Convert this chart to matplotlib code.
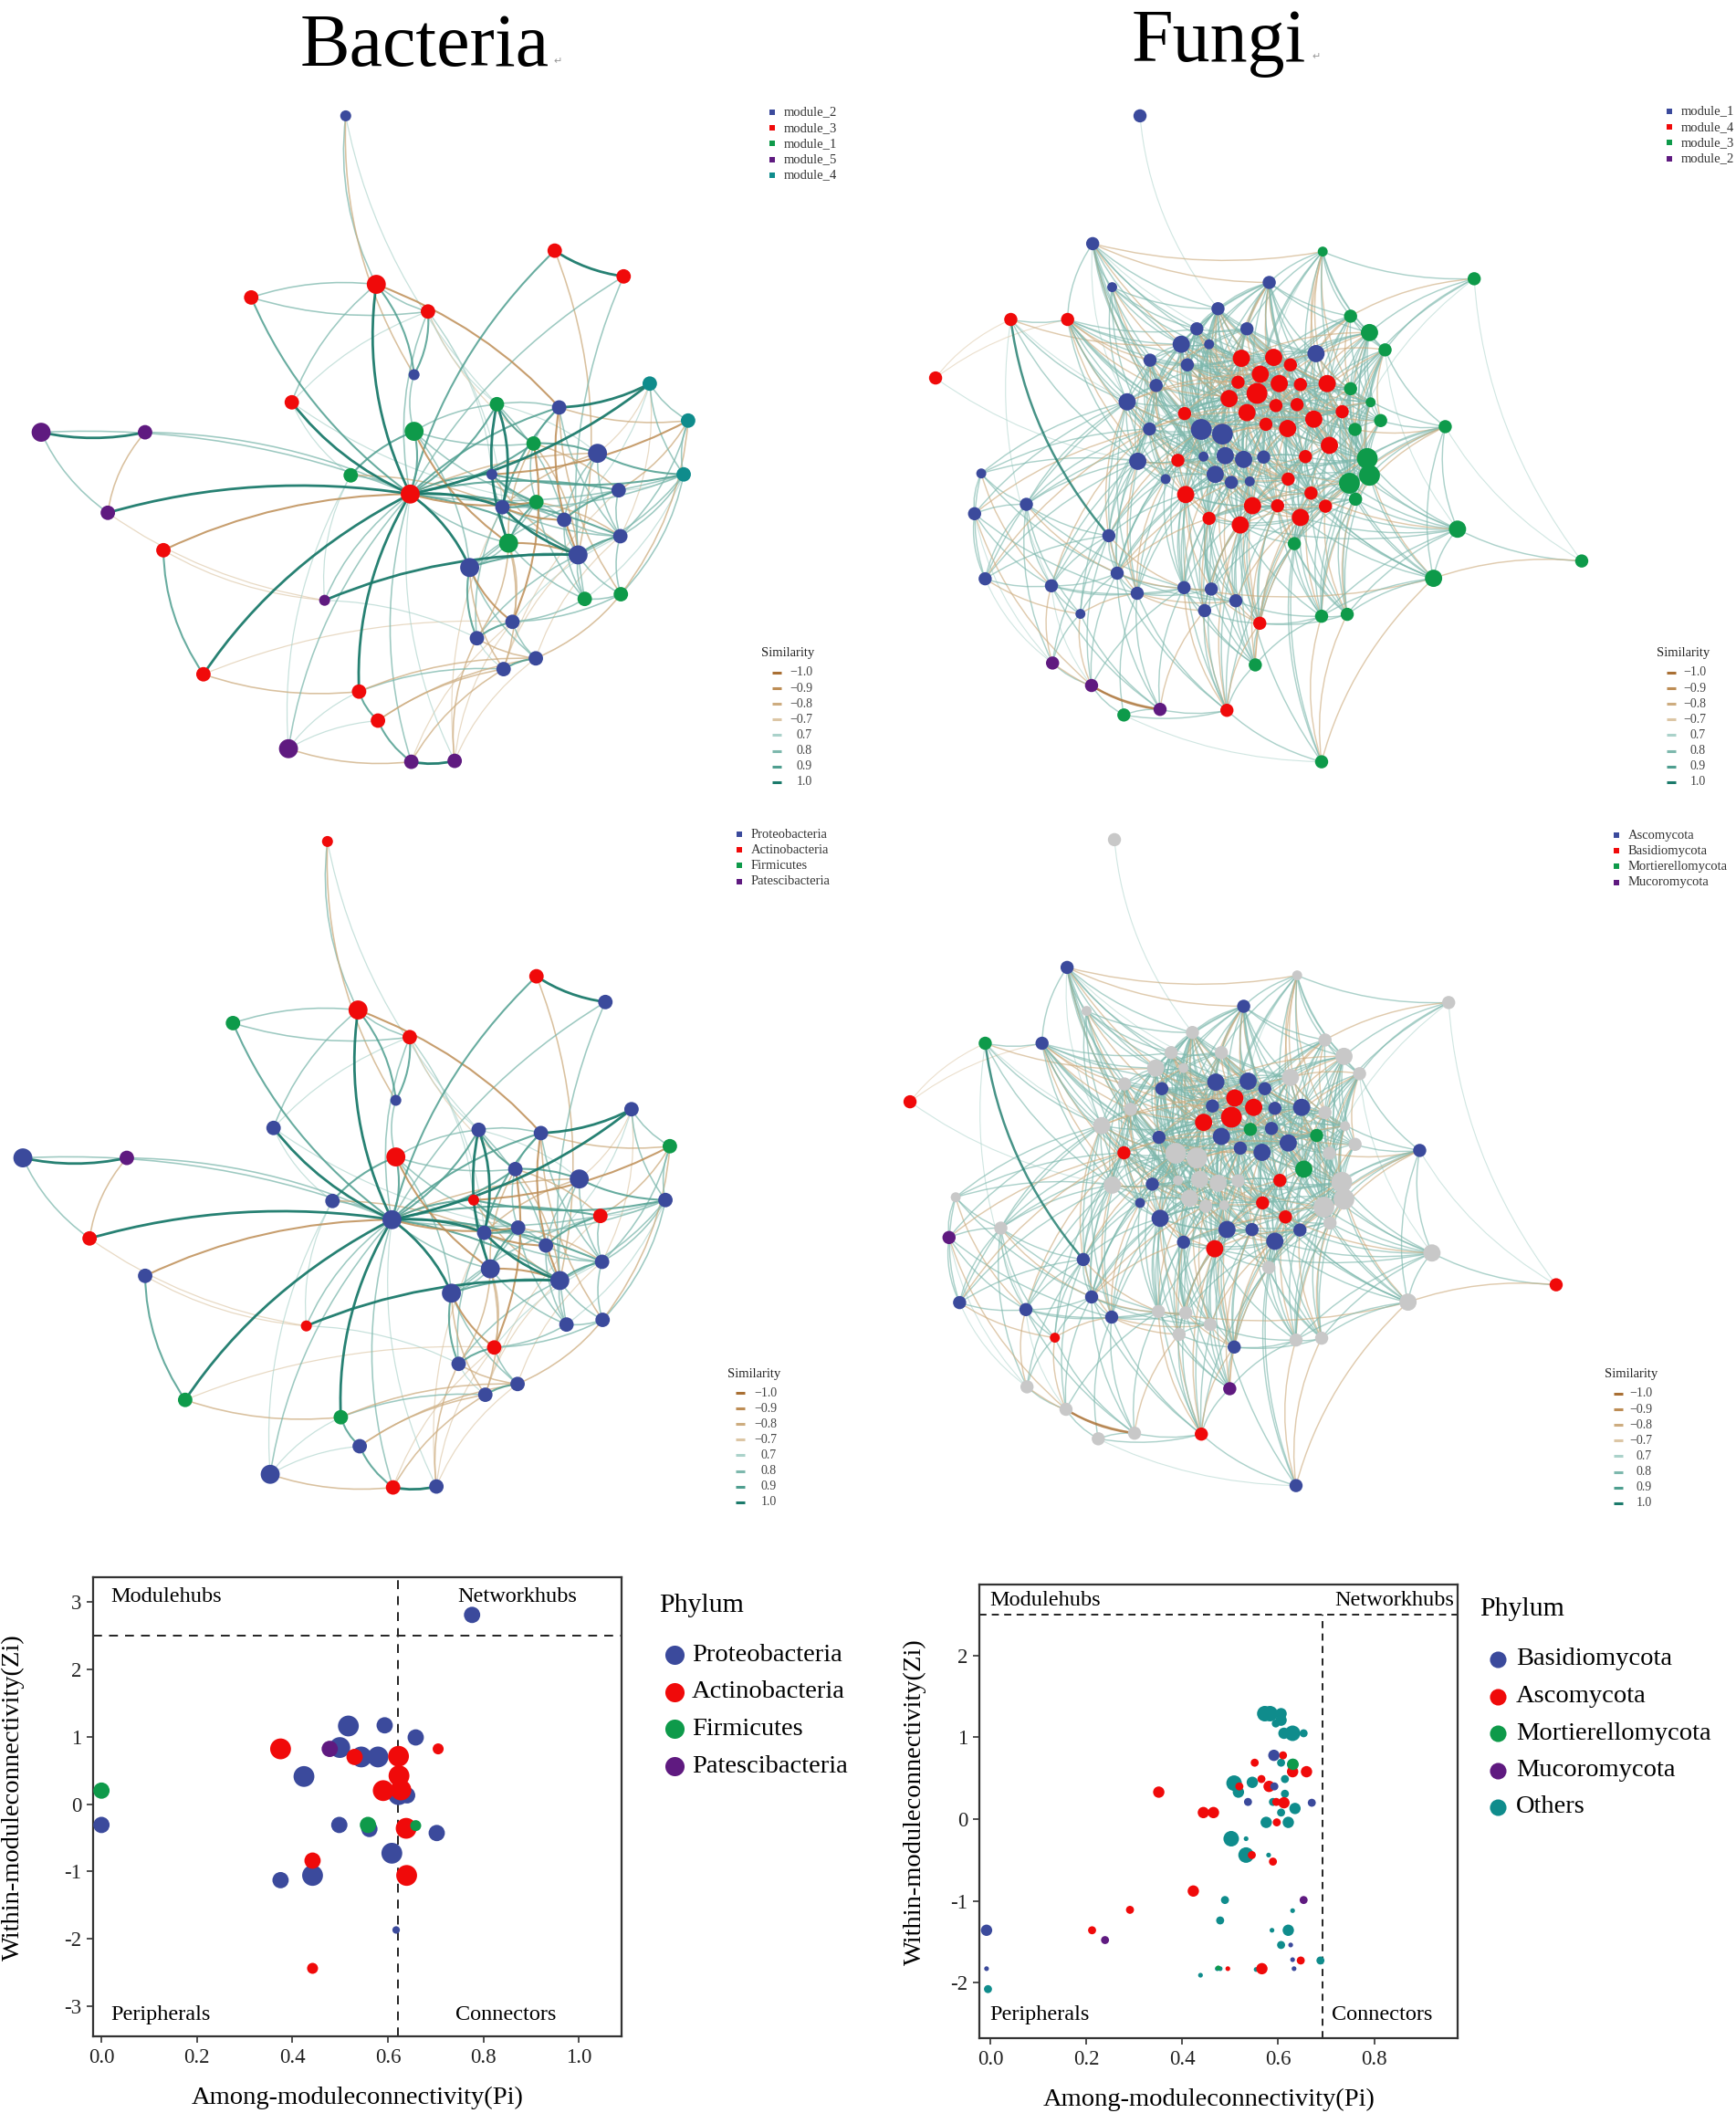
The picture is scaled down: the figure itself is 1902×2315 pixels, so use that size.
import re
import numpy as np
import matplotlib
matplotlib.use('Agg')
import matplotlib.pyplot as plt
from matplotlib.path import Path
from matplotlib.patches import PathPatch

plt.rcParams['font.family'] = ['Liberation Serif', 'DejaVu Sans']
plt.rcParams['axes.unicode_minus'] = False

W, H = 1902, 2315

# ---------------- Bacteria network (layout coordinates) ----------------
bac_x = [622, 745, 1006, 1075, 885, 1113, 904, 1015, 1116, 1040,
         845, 922, 858, 964, 906, 998, 1122, 677, 452, 770,
         525, 738, 294, 366, 646, 680, 894, 745, 631, 960,
         965, 915, 1052, 1117, 74, 261, 194, 584, 519, 740,
         818, 1169, 1238, 1230]
bac_y = [72, 625, 695, 793, 838, 872, 908, 935, 970, 1010,
         1037, 1153, 1188, 1231, 1254, 360, 415, 432, 460, 490,
         684, 880, 1000, 1265, 1302, 1364, 688, 746, 840, 772,
         897, 985, 1104, 1094, 748, 748, 920, 1107, 1424, 1452,
         1450, 644, 723, 838]
bac_module = list("2" * 15 + "3" * 11 + "1" * 8 + "5" * 7 + "4" * 3)
bac_phylum = list("APPPAAPPPP" "PAPPPAPAFA" "PPPFFPPAPP" "PPPPPSAAPA" "PPFP")
bac_size = list("ssmlsmmmml" "lmmmmmmlmm" "mlmmmmmlmm" "mlmmlmmslm" "mmmm")

bac_edges = """
0: 17 -1 26'
17: 18 19 20 21* 1^ -2^
18: 19 21^
19: 1^ 21 26' 4' -29' 6'
20: 19' 21* 30' 28'
15: 16* 21^ -9
16: 21 32
34: 35* 36 21
35: -36 21
36: 21* -37'
22: -21^ 23^ -37'
23: 21* -24 -11'
37: 21 9* 12' 28'
38: 21 24' -39 25' 28'
39: 40* 25^ 21 -14 -11'
40: -11' 21' -12 -13' -6'
24: 21* 14 -13 25^
25: -13 -14
21: 27^ 28 4^ 6* 2^ 5^ 8^ 9^ 10* -30^ 29^ 43 7 -3 26^ 31 41*
27: 26 1 -31^ 29 30 28^ 10
28: -6
26: 3' 6* 29^ 2 31* 7
2: 41* 29 8 -9^ 6^ -33 -42
3: 43^ 8 9 7 -6 29^
4: -42^ 43^ 6 30^ -9 7
5: 8 10 43' -42 7^ -29 -14'
6: 9* 31 8 -7^ 12 30^
7: 9 30 32 41' 8
8: 9^ 33 43 11' -41'
9: 10^ -31^ 32 33 12 -29
10: 31 12^ -11^ 13 -14 30
11: -31 12^ 13 -29^ 32 33
12: -31 14' -13
13: 14^ -8' -33
14: -31 -9'
30: 31^ 29 32 -8
31: 32 -29
32: 33 43'
33: 43 -42
41: 42 43 -3'
42: 43 8
43: 6 9
"""

# ---------------- Fungi network (layout coordinates, nodes numbered 1..100) ----------------
fun_x = [490, 405, 818, 1090, 440, 722, 258, 360, 123, 630,
         868, 902, 930, 592, 682, 564, 614, 508, 575, 806,
         672, 730, 760, 519, 666, 706, 740, 778, 826, 868,
         467, 650, 700, 734, 772, 904, 570, 682, 853, 922,
         802, 716, 755, 507, 600, 638, 876, 1038, 830, 787,
         486, 558, 604, 643, 676, 712, 898, 902, 866, 625,
         654, 687, 756, 536, 205, 572, 797, 877, 286, 193,
         692, 737, 823, 614, 670, 778, 1060, 434, 767, 1283,
         212, 331, 449, 485, 569, 618, 662, 606, 1017, 383,
         705, 816, 862, 697, 333, 403, 526, 461, 646, 816]
fun_y = [72, 345, 362, 420, 438, 428, 507, 507, 632, 484,
         500, 535, 572, 527, 527, 560, 560, 594, 604, 580,
         590, 588, 604, 648, 641, 624, 644, 646, 644, 655,
         683, 676, 665, 691, 689, 684, 708, 706, 704, 723,
         720, 731, 740, 741, 742, 752, 742, 736, 776, 800,
         810, 808, 800, 798, 806, 801, 804, 840, 857, 838,
         855, 853, 848, 848, 836, 881, 878, 891, 902, 922,
         905, 905, 906, 932, 946, 930, 955, 969, 986, 1023,
         1061, 1076, 1049, 1092, 1080, 1083, 1108, 1129, 1060, 1136,
         1156, 1141, 1137, 1245, 1241, 1289, 1340, 1352, 1342, 1452]
fun_module = list("bbggbbrrrb" "gggbbbbbbb" "rrrbrrrrrg" "brrrrgrrrg" "rrrbbbggrr"
                  "brbbbbgggb" "bbrbbrrgbb" "rrrrrrgbgg" "bbbbbbbbgb" "rgggpppgrg")
fun_phylum = list("obooobgbro" "oooooooobo" "bbbobrrbbo" "orrgbobbgo" "bbbrooobgr"
                  "oboooooooo" "oorbobroop" "bbbbrbobor" "bbbbooooor" "boopoooorb")
fun_size = list("mmsmsmmmmm" "mlmmmlsmml" "llmmmllmlm" "llxmmsmlmm" "lmlmxxmmlm"
                "lmsllmxxxl" "msmsslmmmm" "lmmmlllmmm" "mmmmmmmmls" "mmmmmmmmmm")

fun_edges = """
1: 10'
2: 8 5 10 14 -6 18 16 24 -3 31' 45 22' 21 -33 46 -53 60
3: 4 11 12 -20 6 22' 15 -29 13 26 -30 33 41 -49 57
4: 12 13 -11 30 47'
5: 10 14 16 -45 31 24' 21 -32 44 53
6: 10 14 15 16 17 19 20 21 22 -23 11 12 -25 3' 45 27 29 -32 33 41 -43 49 57 59
7: -9' 8 31 -16 45' 51 78* 82'
8: 14 16 -18 19 -24 31 37 45 46 -52 21 -32 44 51 -64 53
9: 51' -8'
10: 14 15 17 19 21 -22 25 45 46 -54 55 -33 60 88 20 23 27 29 -32 35 38 -41 44 51
11: 12 13 -20 22 23 29 -30 36 27 -28 33 41 49
12: 13 -21 23 29 30 36 40 -47 57 58 -35 26 -27 41 49 59
13: 29 30 36 -40 47 57 58 48 -59 77' 41 -43 49 68
14: 15 16 17 19 21 -26 24 45 46 53 22 -25 28 32 -33 37 38 -42 55
15: 16 17 20 22 23 -26 27 29 45 -46 21 24 -28 30 32 -36 38 41
16: 17 18 19 21 24 31 45 46 -53 54 22 25 -27 32 33 37 -38 44 51 60
17: 18 19 21 25 -26 45 46 22 23 -24 32 -34 38 53 54
18: 19 24 31 45 -46 51 44 21 -25 32 37 -52 53 60 64
19: 21 22 25 26 -27 45 46 53 32 23 28 -33 37 38 -42 54 55
20: 22 23 28 29 30 -36 41 21 25 -26 27 33 35 -39 43 49 57 11 12 -13
21: 22 25 26 -27 28 32 33 35 -38 42 45 54 23 29 -34 37 41 43 46 -50 55 -63
22: 23 26 27 -28 29 32 33 34 -41 43 35 -37 38 39 42 45 -49 50
23: 27 28 29 -30 33 35 39 41 25 26 -32 34 36 42 -43 47 49
24: 31 45 46 -51 44 37 53 64 32 -33 -37 45 52 60 -66
25: 26 32 33 -37 38 42 45 46 -54 27 28 34 -39 43 44 52 55 -56 60
26: 27 32 33 34 -35 38 42 43 55 28 29 -31 37 39 41 45 -49 56 -63
27: 28 33 34 35 39 -41 43 49 29 32 37 -38 42 -45 50 56 67
28: 29 33 35 -39 41 49 36 30 32 -34 40 42 43 -50 57 63
29: 30 35 36 39 41 -47 49 40 33 -34 42 43 50 57 -58 59
30: 36 39 40 47 -49 57 33 35 -41 48 58 59 68
31: 44 45 -46 51 52 65 69 -78 21 -25 32 53 -60 64 83 84
32: 33 37 38 -42 45 46 54 55 34 -39 43 44 -49 52 53 56 63 66 71
33: 34 38 42 43 -35 46 55 56 63 37 39 -41 45 50 54 -62 67 71
34: 35 38 42 43 49 -50 56 63 37 39 41 -44 45 -54 57 62 67 72
35: 39 41 43 49 50 -57 63 37 38 -40 42 47 56 -59 67 73
36: 39 40 47 57 -58 41 38 -43 49 59 68
37: 44 45 46 52 -53 54 66 64 38 42 -43 51 55 60 61 -71 74 75
38: 42 43 45 46 54 55 -56 62 71 39 41 -44 52 53 -60 63 72 75
39: 40 41 47 49 57 -58 67 42 43 -50 59 63 68 73
40: 47 48 57 58 -59 68
41: 43 47 49 50 57 -58 67 73 42 -45 46 56 59 63 68 76
42: 43 55 56 62 63 -71 72 44 46 50 -52 54 61 67 75
43: 49 50 56 63 67 -72 76 45 -46 55 57 -62 71 73
44: 45 51 52 53 64 -66 83 46 54 -60 61 66 69 78 -82 84 90
45: 46 51 52 53 54 60 64 -66 74 61 55 -56 62 -63 71 85 69 -78 83 84
46: 53 54 55 60 61 -62 71 74 52 56 -63 64 66 72 -75 86
47: 57 58 59 68 -48 79
48: 57 58 59 77 89 -68 67 -73 80'
49: 50 57 58 59 -67 68 73 63 -71 76 77 79
50: 56 59 63 67 -72 73 76 55 57 -62 68 71 75 79
51: 52 64 69 78 83 -84 65 53 -54 60 66 81 82
52: 53 60 64 66 -74 83 85 54 55 -61 71 78
53: 54 60 61 -66 64 55 -62 63 74 85
54: 55 60 61 62 -71 75 56 -63 66 72 74 86 -87
55: 56 61 62 63 -72 71 57 -60 66 67 74 75
56: 62 63 67 71 72 -76 57 -59 66 73 75 -91
57: 58 59 68 77 -89 73 63 67 -76 79 93
58: 59 68 77 89 -79 76 63 67 73 -92 93
59: 67 68 73 76 -79 89 92 63 -71 77 93
60: 61 64 66 74 -85 86 62 -63 71 75 83
61: 62 71 74 75 -87 86 66 72 -76 85 88
62: 63 71 72 75 -91 66 67 -74 76
63: 67 72 73 76 -79 66 -71 75 89
64: 66 78 83 -84 85
65: 69 70 81 -82 44 -51 83
66: 74 78 83 85 -86 88 99 71 72 -75 84 87
67: 73 76 79 -92 93 68 71 -74 75 89
68: 73 76 77 79 89 -93
69: 70 81 82 -83 78 90 44 -45 85 95
70: 81 82 -96 95' 31 -44 84
71: 72 74 75 86 87 -88 91 73 -76 79 85 99
72: 73 75 76 -79 91 93 74 86 92 99
73: 76 79 89 92 -93 74 -75 77 91
74: 75 85 86 88 -99 87 76 -83 91 94
75: 76 79 87 88 91 -99 94 77 -86 92 100
76: 79 89 92 93 -94 77 86 -87 91 100
77: 80 89 93 57 58 -67
78: 81 82 83 -84 90 84 -85 95 96
79: 91 92 93 -94 99
80: -89 4'
81: 82 -90 95' 31 -44 51
82: 83 84 -95 90 96' 45 -51 85 97
83: 84 85 -86 97 60 -61 87 96
84: 85 86 -88 97 99 60 66 -87 98
85: 86 88 -99 94 87 -89 96 97
86: 87 88 -91 99
87: 88 -91 92 94
88: 91 99 -97 94
89: 92 93 -100 57 58 -67 76 80
90: 95 -96 97 83 -84
91: 92 94 -99 63 -67 93
92: 93 94 -100 57 -58 59 68 77
93: 57 58 -59 68 77
94: 71 -72 74 86 99
95: 96 -97
96: -97* 98
97: 98 99
98: 99 100'
99: 100 66 -71 74 83 85 -86
100: 76 89 -93 79
"""

# ---------------- Zi-Pi data ----------------
bzp_pi = [0.776, 0.517, 0.593, 0.658, 0.499, 0.544, 0.579, 0.424, 0.622, 0.640,
          0.0, 0.498, 0.561, 0.702, 0.608, 0.375, 0.442, 0.617,
          0.375, 0.530, 0.622, 0.705, 0.623, 0.590, 0.627, 0.638, 0.442, 0.639, 0.442,
          0.0, 0.558, 0.658, 0.478]
bzp_zi = [2.81, 1.16, 1.17, 0.99, 0.84, 0.70, 0.70, 0.41, 0.14, 0.13,
          -0.31, -0.31, -0.37, -0.43, -0.73, -1.13, -1.06, -1.87,
          0.82, 0.70, 0.71, 0.82, 0.42, 0.20, 0.21, -0.36, -0.84, -1.06, -2.44,
          0.20, -0.31, -0.32, 0.82]
bzp_phy = (["Proteobacteria"] * 18 + ["Actinobacteria"] * 11 + ["Firmicutes"] * 3
           + ["Patescibacteria"])
bzp_size = ["m", "l", "m", "m", "l", "l", "l", "l", "l", "m",
            "m", "m", "m", "m", "l", "m", "l", "t",
            "l", "m", "l", "s", "l", "l", "l", "l", "m", "l", "s",
            "m", "m", "s", "m"]

fzp_pi = [0.572, 0.583, 0.606, 0.606, 0.595, 0.612, 0.630, 0.653, 0.606, 0.630,
          0.614, 0.508, 0.546, 0.517, 0.614, 0.589, 0.606, 0.635, 0.575, 0.621,
          0.502, 0.533, 0.533, 0.580, 0.489, 0.630, 0.479, 0.587, 0.621, 0.606,
          0.688, 0.473, 0.479, 0.554, 0.438, -0.005,
          0.351, 0.444, 0.465, 0.551, 0.565, 0.519, 0.581, 0.610, 0.612, 0.596,
          0.659, 0.630, 0.597, 0.545, 0.589, 0.423, 0.291, 0.212, 0.566, 0.495, 0.647,
          0.591, 0.592, 0.537, 0.670, 0.630, 0.633, 0.626, -0.008, -0.008,
          0.631, 0.475,
          0.653, 0.239]
fzp_zi = [1.29, 1.29, 1.29, 1.21, 1.17, 1.05, 1.05, 1.05, 0.69, 0.67,
          0.49, 0.44, 0.45, 0.33, 0.31, 0.21, 0.08, 0.13, -0.04, -0.04,
          -0.24, -0.24, -0.44, -0.44, -0.99, -1.12, -1.24, -1.36, -1.36, -1.54,
          -1.73, -1.83, -1.83, -1.84, -1.91, -2.08,
          0.33, 0.08, 0.08, 0.69, 0.49, 0.40, 0.40, 0.78, 0.20, 0.21,
          0.58, 0.58, -0.04, -0.44, -0.52, -0.88, -1.11, -1.36, -1.83, -1.83, -1.73,
          0.78, 0.40, 0.21, 0.20, -1.72, -1.83, -1.54, -1.36, -1.83,
          0.67, -1.82,
          -0.99, -1.48]
fzp_phy = (["Others"] * 36 + ["Ascomycota"] * 21 + ["Basidiomycota"] * 9
           + ["Mortierellomycota"] * 2 + ["Mucoromycota"] * 2)
fzp_size = ["l", "l", "m", "m", "s", "m", "l", "s", "s", "m",
            "s", "l", "m", "m", "s", "s", "s", "m", "m", "m",
            "l", "t", "l", "t", "s", "t", "s", "t", "m", "s",
            "s", "t", "t", "t", "t", "s",
            "m", "m", "m", "s", "s", "s", "m", "s", "m", "s",
            "m", "m", "s", "s", "s", "m", "s", "s", "m", "t", "s",
            "m", "s", "s", "s", "t", "t", "t", "m", "t",
            "m", "t",
            "s", "s"]

# ---------------- colours ----------------
C_BLUE, C_RED, C_GREEN, C_PURPLE, C_TEAL, C_GREY = "#3B4A9C", "#F00A0A", "#0E9A4A", "#5F1A80", "#0F8C8C", "#C8C8C8"
bac_mod_col = {"1": C_GREEN, "2": C_BLUE, "3": C_RED, "4": C_TEAL, "5": C_PURPLE}
bac_phy_col = {"P": C_BLUE, "A": C_RED, "F": C_GREEN, "S": C_PURPLE}
fun_mod_col = {"b": C_BLUE, "r": C_RED, "g": C_GREEN, "p": C_PURPLE}
fun_phy_col = {"b": C_BLUE, "r": C_RED, "g": C_GREEN, "p": C_PURPLE, "o": C_GREY}
sim_levels = [-1.0, -0.9, -0.8, -0.7, 0.7, 0.8, 0.9, 1.0]
sim_col = {-1.0: "#A96F33", -0.9: "#BD8D55", -0.8: "#CDAC7F", -0.7: "#DCC6A5",
           0.7: "#AAD2CA", 0.8: "#7DB8AD", 0.9: "#4E9E8F", 1.0: "#1B7A6B"}
sim_lw = {1.0: 2.0, 0.9: 1.5, 0.8: 1.15, 0.7: 0.9}
wmap = {"*": 1.0, "^": 0.9, "": 0.8, "'": 0.7}


def parse_edges(text, base):
    seen = {}
    for line in text.strip().splitlines():
        src, rest = line.split(":")
        a = int(src) - base
        for m in re.finditer(r"(-?)(\d+)([*^']?)", rest):
            b = int(m.group(2)) - base
            s = wmap[m.group(3)] * (-1 if m.group(1) else 1)
            key = (min(a, b), max(a, b))
            if a != b and key not in seen:
                seen[key] = s
    return [(k[0], k[1], v) for k, v in seen.items()]


def draw_network(ax, xs, ys, edges, colors, sizes, smap, alpha_scale=1.0, lw_scale=1.0, curv=0.13):
    edges = sorted(edges, key=lambda e: abs(e[2]))
    for a, b, s in edges:
        p0 = np.array([xs[a], ys[a]], float)
        p1 = np.array([xs[b], ys[b]], float)
        d = p1 - p0
        c = (p0 + p1) / 2 + curv * np.array([-d[1], d[0]])
        path = Path([p0, c, p1], [Path.MOVETO, Path.CURVE3, Path.CURVE3])
        w = abs(s)
        al = min(1.0, {1.0: 0.95, 0.9: 0.85, 0.8: 0.75, 0.7: 0.65}[w] * alpha_scale)
        ax.add_patch(PathPatch(path, facecolor="none", edgecolor=sim_col[s],
                               lw=sim_lw[w] * lw_scale, alpha=al, zorder=1))
    ax.scatter(xs, ys, s=[smap[z] for z in sizes], c=colors, linewidths=0, zorder=3)


fig = plt.figure(figsize=(W / 100, H / 100), dpi=100)


def net_axes(x0, y0, w, h):
    ax = fig.add_axes([x0 / W, 1 - (y0 + h) / H, w / W, h / H])
    ax.set_xlim(0, 1560)
    ax.set_ylim(1560, 0)
    ax.axis("off")
    return ax


bE = parse_edges(bac_edges, 0)
fE = parse_edges(fun_edges, 1)
bsmap = {"s": 75, "m": 130, "l": 225}
fsmap = {"s": 62, "m": 108, "l": 185, "x": 270}

ax1 = net_axes(0, 90, 950, 800)
draw_network(ax1, bac_x, bac_y, bE, [bac_mod_col[m] for m in bac_module], bac_size, bsmap)
ax3 = net_axes(-20, 885, 950, 800)
draw_network(ax3, bac_x, bac_y, bE, [bac_phy_col[p] for p in bac_phylum], bac_size, bsmap)
ax2 = net_axes(950, 90, 952, 800)
draw_network(ax2, fun_x, fun_y, fE, [fun_mod_col[m] for m in fun_module], fun_size, fsmap,
             alpha_scale=0.85, lw_scale=0.9)
ax4 = net_axes(922, 883, 952, 800)
draw_network(ax4, fun_x, fun_y, fE, [fun_phy_col[p] for p in fun_phylum], fun_size, fsmap,
             alpha_scale=0.85, lw_scale=0.9)

# ---------------- Zi-Pi scatter panels ----------------
bphy_col = {"Proteobacteria": C_BLUE, "Actinobacteria": C_RED, "Firmicutes": C_GREEN,
            "Patescibacteria": C_PURPLE}
fphy_col = {"Basidiomycota": C_BLUE, "Ascomycota": C_RED, "Mortierellomycota": C_GREEN,
            "Mucoromycota": C_PURPLE, "Others": C_TEAL}


def style_box(ax):
    for sp in ax.spines.values():
        sp.set_linewidth(1.6)
        sp.set_color("#333333")
    ax.tick_params(direction="out", length=5, width=1.2, color="#333333",
                   labelsize=16.5, labelcolor="#222222", pad=4)


axb = fig.add_axes([102 / W, 1 - 2231 / H, 579 / W, 503 / H])
bsz = {"l": 270, "m": 165, "s": 75, "t": 35}
axb.scatter(bzp_pi, bzp_zi, s=[bsz[z] for z in bzp_size], c=[bphy_col[p] for p in bzp_phy],
            linewidths=0, zorder=3)
axb.set_xlim(-0.0175, 1.089)
axb.set_ylim(-3.45, 3.37)
axb.set_xticks([0, 0.2, 0.4, 0.6, 0.8, 1.0])
axb.set_xticklabels(["0.0", "0.2", "0.4", "0.6", "0.8", "1.0"])
axb.set_yticks([-3, -2, -1, 0, 1, 2, 3])
axb.axvline(0.62, color="#222222", lw=1.4, ls=(0, (5, 4)), zorder=2)
axb.axhline(2.5, color="#222222", lw=1.4, ls=(0, (5, 4)), zorder=2)
axb.text(0.02, 3.08, "Modulehubs", fontsize=17.5, va="center")
axb.text(0.995, 3.08, "Networkhubs", fontsize=17.5, va="center", ha="right")
axb.text(0.02, -3.13, "Peripherals", fontsize=17.5, va="center")
axb.text(0.742, -3.13, "Connectors", fontsize=17.5, va="center")
axb.set_xlabel("Among-moduleconnectivity(Pi)", fontsize=20.5)
axb.set_ylabel("Within-moduleconnectivity(Zi)", fontsize=20.5)
axb.xaxis.set_label_coords(0.5, -0.11)
axb.yaxis.set_label_coords(-0.13, 0.52)
style_box(axb)

axf = fig.add_axes([1073 / W, 1 - 2233 / H, 524 / W, 497 / H])
fsz = {"l": 150, "m": 80, "s": 40, "t": 14}
axf.scatter(fzp_pi, fzp_zi, s=[fsz[z] for z in fzp_size], c=[fphy_col[p] for p in fzp_phy],
            linewidths=0, zorder=3)
axf.set_xlim(-0.023, 0.974)
axf.set_ylim(-2.68, 2.87)
axf.set_xticks([0, 0.2, 0.4, 0.6, 0.8])
axf.set_xticklabels(["0.0", "0.2", "0.4", "0.6", "0.8"])
axf.set_yticks([-2, -1, 0, 1, 2])
axf.axhline(2.5, color="#222222", lw=1.4, ls=(0, (4, 3)), zorder=2)
axf.axvline(0.693, ymax=(2.5 + 2.68) / (2.87 + 2.68), color="#222222", lw=1.4,
            ls=(0, (4, 3)), zorder=2)
axf.text(-0.002, 2.67, "Modulehubs", fontsize=17.5, va="center")
axf.text(0.967, 2.67, "Networkhubs", fontsize=17.5, va="center", ha="right")
axf.text(-0.002, -2.39, "Peripherals", fontsize=17.5, va="center")
axf.text(0.711, -2.39, "Connectors", fontsize=17.5, va="center")
axf.set_xlabel("Among-moduleconnectivity(Pi)", fontsize=20.5)
axf.set_ylabel("Within-moduleconnectivity(Zi)", fontsize=20.5)
axf.xaxis.set_label_coords(0.48, -0.11)
axf.yaxis.set_label_coords(-0.11, 0.52)
style_box(axf)

# ---------------- overlay: titles and legends ----------------
ov = fig.add_axes([0, 0, 1, 1], zorder=10)
ov.set_xlim(0, W)
ov.set_ylim(H, 0)
ov.axis("off")
ov.patch.set_alpha(0)

ov.text(465, 72, "Bacteria", fontsize=59, ha="center", va="baseline")
ov.text(606, 70, "\u21b5", fontsize=8, color="#999999", va="baseline")
ov.text(1335, 67, "Fungi", fontsize=59, ha="center", va="baseline")
ov.text(1437, 65, "\u21b5", fontsize=8, color="#999999", va="baseline")


def square_legend(x, y0, labels, colors, dy=17.2):
    for i, (lab, col) in enumerate(zip(labels, colors)):
        y = y0 + i * dy
        ov.scatter([x], [y], marker="s", s=16, color=col, linewidths=0)
        ov.text(x + 13, y, lab, fontsize=10.5, va="center", color="#333333")


def sim_legend(xt, yt, xl, xr, y0, dy=17.1):
    ov.text(xt, yt, "Similarity", fontsize=10.5, va="center", color="#222222")
    for i, s in enumerate(sim_levels):
        y = y0 + i * dy
        ov.plot([xl - 5, xl + 5], [y, y], color=sim_col[s], lw=2.2, solid_capstyle="butt")
        lab = ("\u2212%.1f" % abs(s)) if s < 0 else ("%.1f" % s)
        ov.text(xr, y, lab, fontsize=10, va="center", ha="right", color="#444444")


square_legend(846, 123, ["module_2", "module_3", "module_1", "module_5", "module_4"],
              [C_BLUE, C_RED, C_GREEN, C_PURPLE, C_TEAL])
square_legend(1829, 122, ["module_1", "module_4", "module_3", "module_2"],
              [C_BLUE, C_RED, C_GREEN, C_PURPLE])
square_legend(810, 914, ["Proteobacteria", "Actinobacteria", "Firmicutes", "Patescibacteria"],
              [C_BLUE, C_RED, C_GREEN, C_PURPLE])
square_legend(1771, 915, ["Ascomycota", "Basidiomycota", "Mortierellomycota", "Mucoromycota"],
              [C_BLUE, C_RED, C_GREEN, C_PURPLE])
sim_legend(834, 716, 851, 890, 737)
sim_legend(1815, 716, 1831, 1869, 737)
sim_legend(797, 1505, 811, 851, 1526)
sim_legend(1758, 1506, 1773, 1810, 1527)

# Zi-Pi legends
ov.text(722, 1759, "Phylum", fontsize=21.5, va="center")
for i, p in enumerate(["Proteobacteria", "Actinobacteria", "Firmicutes", "Patescibacteria"]):
    y = 1813 + i * 40.7
    ov.scatter([739], [y], s=230, color=bphy_col[p], linewidths=0)
    ov.text(758, y, p, fontsize=20.5, va="center")
ov.text(1621, 1763, "Phylum", fontsize=21.5, va="center")
for i, p in enumerate(["Basidiomycota", "Ascomycota", "Mortierellomycota", "Mucoromycota", "Others"]):
    y = 1818 + i * 40.5
    ov.scatter([1641], [y], s=170, color=fphy_col[p], linewidths=0)
    ov.text(1661, y, p, fontsize=20.5, va="center")

fig.savefig("out.png", dpi=100)
